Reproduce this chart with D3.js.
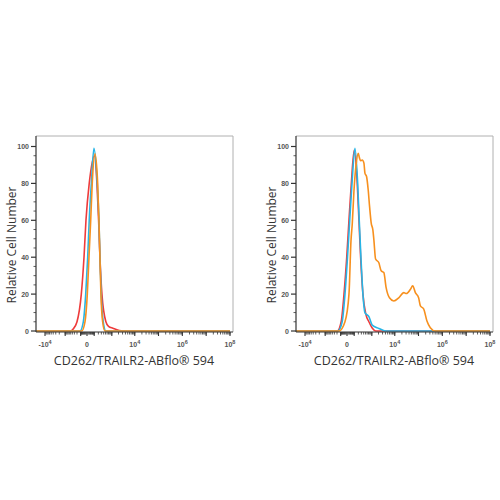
<!DOCTYPE html>
<html>
<head>
<meta charset="utf-8">
<script src="https://cdn.jsdelivr.net/npm/d3@7"></script>
<style>
  body { margin: 0; background: #fff; }
  svg { display: block; }
</style>
</head>
<body>
<svg id="vis" width="500" height="500"></svg>
<script>
// histogram overlays, x in fluorescence units, y in % of max
let leftRed = [[-1e5, 0], [-550, 0], [-366, 1], [-200, 5], [-87, 20], [-39, 40], [-12, 60], [24, 80], [106, 95],
    [161, 80], [207, 60], [249, 40], [323, 20], [521, 5], [700, 2.5], [1120, 1.5], [3100, 0], [1e8, 0]];
let leftCyan = [[-1e5, 0], [-116, 0], [-50, 5], [-15, 20], [7, 40], [24, 60], [52, 80], [96, 99],
    [169, 80], [217, 60], [249, 40], [295, 20], [380, 5], [521, 0], [1e8, 0]];
let leftOrange = [[-1e5, 0], [-79, 0], [-25, 5], [3, 20], [21, 40], [43, 60], [66, 80], [116, 96],
    [180, 80], [217, 60], [249, 40], [284, 20], [353, 5], [464, 0], [1e8, 0]];

let rightRed = [[-1e5, 0], [-190, 0], [-90, 5], [-39, 20], [-3, 40], [21, 60], [52, 80], [100, 98],
    [169, 80], [217, 60], [273, 40], [366, 20], [520, 9], [730, 5], [1040, 1.6], [1500, 0], [1e8, 0]];
let rightCyan = [[-1e5, 0], [-170, 0], [-70, 5], [-25, 20], [5, 40], [30, 60], [62, 80], [116, 99],
    [180, 80], [226, 60], [284, 40], [366, 20], [464, 10], [730, 7.8], [1040, 3.2], [2070, 1.4], [4100, 0], [1e8, 0]];
let rightOrange = [[-1e5, 0], [-141, 0], [-25, 5], [21, 20], [47, 49], [66, 58], [96, 76], [140, 90], [196, 96.3],
    [230, 94], [273, 92.3], [336, 92.7], [413, 91], [465, 85.6], [565, 83.6], [676, 76.4], [787, 67.4],
    [937, 58.5], [1120, 54.7], [1250, 49], [1480, 39], [2070, 37], [2610, 32.6], [3410, 31.7], [4280, 23.5],
    [5950, 18], [9080, 16.3], [14700, 18], [24000, 20.8], [31000, 20.3], [45700, 22.6], [57000, 24.5],
    [73700, 20.8], [101000, 18], [120000, 13.6], [164000, 12], [226000, 5.4], [313000, 1.8], [506000, 0], [1e8, 0]];

let yTicks = [0, 20, 40, 60, 80, 100];
let xLabels = [[-1e4, "-10", "4"], [0, "0", ""], [1e4, "10", "4"], [1e6, "10", "6"], [1e8, "10", "8"]];
let xTitle = "CD262/TRAILR2-ABflo® 594";
let yTitle = "Relative Cell Number";

let colors = {red: "#ee3b3b", cyan: "#27b5e6", orange: "#f7901e"};

let panels = [
    {dx: 0, series: [[leftRed, colors.red], [leftCyan, colors.cyan], [leftOrange, colors.orange]]},
    {dx: 260, series: [[rightRed, colors.red], [rightCyan, colors.cyan], [rightOrange, colors.orange]]}
];

let svg = d3.select("#vis");

// minor ticks of the biexponential axis
let minorX = [];
for (let d = 1; d <= 7; d++) {
    for (let k = 1; k <= 9; k++) {
        minorX.push(k * Math.pow(10, d));
        if (d <= 3) minorX.push(-k * Math.pow(10, d));
    }
}
minorX.push(1e8);
let decades = [-1e4, -1e3, -1e2, 0, 1e2, 1e3, 1e4, 1e5, 1e6, 1e7, 1e8];

panels.forEach(function (p, i) {
    let left = 36, right = 233, top = 136, bottom = 332;
    let g = svg.append("g").attr("transform", "translate(" + p.dx + ",0)");

    let x = d3.scaleSymlog().constant(100)
        .domain([-1e4, 0, 1e8])
        .range([45, 87, 230]);
    let y = d3.scaleLinear().domain([0, 100]).range([331, 146.5]);

    g.append("clipPath").attr("id", "clip" + i)
        .append("rect").attr("x", left).attr("y", top).attr("width", right - left).attr("height", bottom - top);

    // frame
    g.append("path")
        .attr("d", "M" + left + "," + top + "H" + right + "V" + bottom)
        .attr("fill", "none").attr("stroke", "#b0b0b0").attr("stroke-width", 1);

    let line = d3.line()
        .x(d => x(d[0]))
        .y(d => y(d[1]))
        .curve(d3.curveMonotoneX);

    let plot = g.append("g").attr("clip-path", "url(#clip" + i + ")");
    p.series.forEach(function (s) {
        plot.append("path")
            .attr("d", line(s[0]))
            .attr("fill", "none")
            .attr("stroke", s[1])
            .attr("stroke-width", 1.6)
            .attr("stroke-linejoin", "round");
    });

    // y axis
    g.append("line").attr("x1", left).attr("x2", left).attr("y1", top).attr("y2", bottom)
        .attr("stroke", "#333").attr("stroke-width", 1.2);
    d3.range(0, 101, 5).forEach(function (v) {
        let major = v % 20 === 0;
        g.append("line")
            .attr("x1", left).attr("x2", left - (major ? 5 : 2.5))
            .attr("y1", y(v)).attr("y2", y(v))
            .attr("stroke", "#333").attr("stroke-width", major ? 1.2 : 0.8);
    });
    g.selectAll(".ylab").data(yTicks).enter().append("text")
        .attr("x", left - 7).attr("y", d => y(d) + 2.5)
        .attr("text-anchor", "end")
        .attr("font-family", "Liberation Sans, Arial, sans-serif")
        .attr("font-size", 7).attr("font-weight", "bold").attr("fill", "#555")
        .text(d => d);

    // x axis
    g.append("line").attr("x1", left).attr("x2", right).attr("y1", bottom).attr("y2", bottom)
        .attr("stroke", "#333").attr("stroke-width", 1.2);
    minorX.forEach(function (v) {
        g.append("line")
            .attr("x1", x(v)).attr("x2", x(v))
            .attr("y1", bottom).attr("y2", bottom + 2.5)
            .attr("stroke", "#333").attr("stroke-width", 0.8);
    });
    decades.forEach(function (v) {
        g.append("line")
            .attr("x1", x(v)).attr("x2", x(v))
            .attr("y1", bottom).attr("y2", bottom + 4)
            .attr("stroke", "#333").attr("stroke-width", 1.1);
    });
    xLabels.forEach(function (l) {
        let t = g.append("text")
            .attr("x", x(l[0])).attr("y", 347)
            .attr("text-anchor", "middle")
            .attr("font-family", "Liberation Sans, Arial, sans-serif")
            .attr("font-size", 7).attr("font-weight", "bold").attr("fill", "#555");
        t.append("tspan").text(l[1]);
        if (l[2]) t.append("tspan").attr("dy", -3.5).attr("font-size", 5.5).text(l[2]);
    });

    // titles
    g.append("text")
        .attr("x", 134).attr("y", 365)
        .attr("text-anchor", "middle")
        .attr("font-family", "Open Sans, sans-serif")
        .attr("font-size", 12.5).attr("fill", "#333")
        .text(xTitle);
    g.append("text")
        .attr("transform", "translate(16,245) rotate(-90)")
        .attr("text-anchor", "middle")
        .attr("font-family", "Open Sans, sans-serif")
        .attr("font-size", 12).attr("fill", "#333")
        .text(yTitle);
});
</script>
</body>
</html>
